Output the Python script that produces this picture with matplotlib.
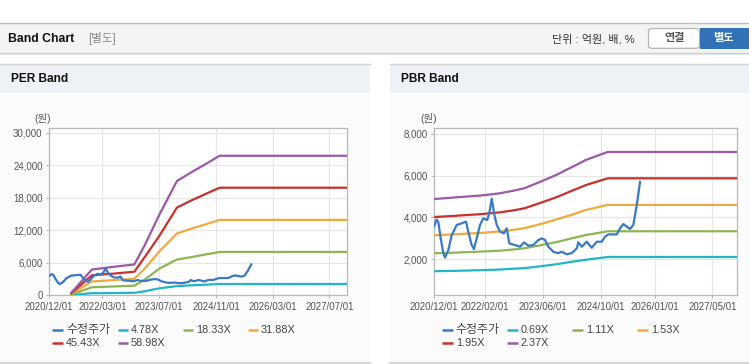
import matplotlib
matplotlib.use("Agg")
import matplotlib.pyplot as plt
import matplotlib.dates as mdates
from matplotlib.patches import Rectangle, FancyBboxPatch
from matplotlib.lines import Line2D
import numpy as np
import pandas as pd

plt.rcParams['font.family'] = ['Liberation Sans', 'Noto Sans CJK KR', 'DejaVu Sans']

W, H = 749, 364

# ---------------- data ----------------
price_dates = ['2020-12-01', '2020-12-21', '2021-01-04', '2021-01-24', '2021-02-15', '2021-03-01',
               '2021-03-29', '2021-04-27', '2021-06-08', '2021-07-20', '2021-08-25', '2021-09-13',
               '2021-10-12', '2021-10-31', '2021-11-23', '2021-12-21', '2022-01-18', '2022-02-20',
               '2022-03-09', '2022-03-30', '2022-04-18', '2022-05-11', '2022-06-07', '2022-07-11',
               '2022-08-03', '2022-08-25', '2022-10-12', '2022-11-23', '2022-12-27', '2023-02-01',
               '2023-03-15', '2023-04-26', '2023-05-25', '2023-06-22', '2023-07-19', '2023-08-31',
               '2023-10-12', '2023-11-09', '2023-12-21', '2024-02-02', '2024-03-15', '2024-03-28',
               '2024-04-26', '2024-06-07', '2024-07-19', '2024-08-30', '2024-10-11', '2024-11-08',
               '2024-12-06', '2025-02-15', '2025-03-14', '2025-04-11', '2025-05-10', '2025-06-07',
               '2025-07-04', '2025-08-02', '2025-08-30']
price_values = [3600, 3900, 3780, 3000, 2290, 2080,
                2440, 3160, 3640, 3720, 3800, 3320,
                2680, 2490, 3000, 3640, 3960, 3880,
                4200, 4900, 4200, 3640, 3320, 3240,
                3480, 2760, 2680, 2600, 2810, 2650,
                2680, 2920, 3000, 2920, 2600, 2360,
                2290, 2360, 2240, 2300, 2520, 2810,
                2600, 2840, 2550, 2840, 2840, 3080,
                3190, 3190, 3480, 3685, 3560, 3450,
                3640, 4590, 5700]

per_dates = ['2021-06-01', '2021-12-01', '2022-06-01', '2022-12-01', '2023-03-01', '2023-07-01',
             '2023-12-01', '2024-04-01', '2024-08-01', '2024-12-01', '2027-12-02']
per_478 = [25, 390, 420, 460, 750, 1280, 1700, 1840, 1960, 2090, 2090]
per_1833 = [90, 1480, 1630, 1770, 2900, 4900, 6600, 7050, 7530, 8010, 8010]
per_3188 = [160, 2550, 2800, 3050, 4950, 8050, 11400, 12300, 13100, 13930, 13930]
per_4543 = [230, 3700, 4000, 4350, 7100, 10900, 16200, 17500, 18700, 19870, 19870]
per_5898 = [300, 4750, 5250, 5700, 9300, 14800, 21100, 22700, 24200, 25770, 25770]
per_labels = ['4.78X', '18.33X', '31.88X', '45.43X', '58.98X']

pbr_dates = ['2020-12-01', '2021-06-01', '2022-01-01', '2022-06-01', '2022-10-01', '2023-01-01',
             '2023-06-01', '2023-10-01', '2024-02-01', '2024-06-01', '2024-12-01', '2027-11-27']
pbr_069 = [1430, 1450, 1480, 1510, 1550, 1580, 1680, 1770, 1880, 1980, 2110, 2110]
pbr_111 = [2290, 2320, 2370, 2410, 2470, 2530, 2690, 2830, 3000, 3160, 3340, 3340]
pbr_153 = [3150, 3200, 3260, 3330, 3410, 3490, 3710, 3910, 4130, 4360, 4600, 4600]
pbr_195 = [4020, 4080, 4160, 4240, 4340, 4440, 4730, 4980, 5270, 5550, 5870, 5870]
pbr_237 = [4880, 4960, 5050, 5150, 5280, 5400, 5750, 6050, 6400, 6750, 7130, 7130]
pbr_labels = ['0.69X', '1.11X', '1.53X', '1.95X', '2.37X']

price_label = '수정주가'

per_xticks = ['2020-12-01', '2022-03-01', '2023-07-01', '2024-11-01', '2026-03-01', '2027-07-01']
per_xticklabels = ['2020/12/01', '2022/03/01', '2023/07/01', '2024/11/01', '2026/03/01', '2027/07/01']
per_yticks = [0, 6000, 12000, 18000, 24000, 30000]
pbr_xticks = ['2020-12-01', '2022-02-01', '2023-06-01', '2024-10-01', '2026-01-01', '2027-05-01']
pbr_xticklabels = ['2020/12/01', '2022/02/01', '2023/06/01', '2024/10/01', '2026/01/01', '2027/05/01']
pbr_yticks = [2000, 4000, 6000, 8000]

colors = ['#3a78c8', '#22b5c8', '#8cb652', '#f2a93b', '#c9302c', '#9a5aa6']

# ---------------- figure ----------------
fig = plt.figure(figsize=(W / 100, H / 100), dpi=100, facecolor='white')


def fx(x):
    return x / W


def fy(y):
    return 1 - y / H


def rect(x0, y0, x1, y1, color, z=-10, **kw):
    fig.add_artist(Rectangle((fx(x0), fy(y1)), fx(x1) - fx(x0), fy(y0) - fy(y1),
                             transform=fig.transFigure, facecolor=color, edgecolor='none',
                             zorder=z, **kw))


def hline(x0, x1, y, color, lw=1.0, z=-5):
    fig.add_artist(Line2D([fx(x0), fx(x1)], [fy(y), fy(y)], transform=fig.transFigure,
                          color=color, lw=lw, zorder=z))


# header bar
rect(0, 22.5, W, 52.5, '#f4f4f4')
hline(0, W, 22.7, '#bdbdbd', 1.0)
hline(0, W, 52.8, '#cccccc', 1.0)
hline(0, W, 53.8, '#e6e6e6', 1.0)

fig.text(fx(8), fy(38.5), 'Band Chart', fontsize=8.8, fontweight='bold', color='#111111',
         va='center', ha='left')
fig.text(fx(88), fy(38.5), '[별도]', fontsize=8.3, color='#8a8a8a', va='center', ha='left')
fig.text(fx(552), fy(39), '단위 : 억원, 배, %', fontsize=8, color='#333333', va='center', ha='left')

# buttons
b1 = FancyBboxPatch((fx(648.5), fy(48.3)), fx(699.5) - fx(648.5), fy(28.5) - fy(48.3),
                    boxstyle='round,pad=0,rounding_size=0.006', transform=fig.transFigure,
                    facecolor='white', edgecolor='#b5b5b5', lw=0.9, zorder=-4)
fig.add_artist(b1)
rect(699.5, 28.3, W, 48.5, '#3273b8', z=-4)
fig.text(fx(675), fy(38.5), '연결', fontsize=8, fontweight='bold', color='#555555',
         va='center', ha='center')
fig.text(fx(723), fy(38.5), '별도', fontsize=8, fontweight='bold', color='white',
         va='center', ha='center')

# panels
for (px0, px1, title) in [(0, 370, 'PER Band'), (390, W, 'PBR Band')]:
    rect(px0, 64.3, px1, 92.7, '#eef1f6')
    rect(px0, 92.7, px1, 362.5, '#fbfbfb')
    hline(px0, px1, 64.3, '#d6d6d6', 1.0)
    hline(px0, px1, 363.0, '#d2d2d2', 1.2)
    fig.text(fx(px0 + 11), fy(79), title, fontsize=8.6, fontweight='bold', color='#111111',
             va='center', ha='left')


def style_axes(ax, xticks, xticklabels, yticks, ylim, xlim):
    ax.set_facecolor('white')
    ax.set_xlim(pd.Timestamp(xlim[0]), pd.Timestamp(xlim[1]))
    ax.set_ylim(*ylim)
    ax.set_xticks([pd.Timestamp(d) for d in xticks])
    ax.set_xticklabels(xticklabels)
    ax.set_yticks(yticks)
    ax.set_yticklabels([f'{v:,}' for v in yticks])
    ax.grid(True, color='#e6e6e6', lw=0.8)
    ax.set_axisbelow(True)
    for s in ax.spines.values():
        s.set_color('#b8b8b8')
        s.set_linewidth(0.9)
    ax.tick_params(axis='both', labelsize=7, labelcolor='#555555', color='#b8b8b8',
                   length=2.2, width=0.8, pad=2.6)


pdates = pd.to_datetime(price_dates)

# PER
ax1 = fig.add_axes([fx(49.3), fy(295.3), fx(347.3) - fx(49.3), fy(128) - fy(295.3)])
style_axes(ax1, per_xticks, per_xticklabels, per_yticks, (0, 30900), ('2020-12-01', '2027-12-02'))
d1 = pd.to_datetime(per_dates)
for vals, c in zip([per_478, per_1833, per_3188, per_4543, per_5898], colors[1:]):
    ax1.plot(d1, vals, color=c, lw=1.6, solid_capstyle='butt', zorder=3)
ax1.plot(pdates, price_values, color=colors[0], lw=1.6, zorder=4)
fig.text(fx(34), fy(118.5), '(원)', fontsize=7.5, color='#555555', va='center', ha='left')

# PBR
ax2 = fig.add_axes([fx(434.3), fy(295.3), fx(737.3) - fx(434.3), fy(128.3) - fy(295.3)])
style_axes(ax2, pbr_xticks, pbr_xticklabels, pbr_yticks, (280, 8260), ('2020-12-01', '2027-11-27'))
d2 = pd.to_datetime(pbr_dates)
for vals, c in zip([pbr_069, pbr_111, pbr_153, pbr_195, pbr_237], colors[1:]):
    ax2.plot(d2, vals, color=c, lw=1.6, solid_capstyle='butt', zorder=3)
ax2.plot(pdates, price_values, color=colors[0], lw=1.6, zorder=4)
fig.text(fx(420), fy(118.5), '(원)', fontsize=7.5, color='#555555', va='center', ha='left')


# legends (manual layout, fixed column spacing)
def legend(x0, labels):
    xs = [0, 65, 130, 195]
    for i, (lab, c) in enumerate(zip(labels, colors)):
        row, col = divmod(i, 4)
        y = 330 + row * 13.3
        x = x0 + xs[col]
        fig.add_artist(Line2D([fx(x), fx(x + 10.5)], [fy(y), fy(y)], transform=fig.transFigure,
                              color=c, lw=1.8, solid_capstyle='butt', zorder=5))
        fs = 8.6 if lab == price_label else 7.8
        fig.text(fx(x + 13.5), fy(y), lab, fontsize=fs, color='#444444', va='center',
                 ha='left', zorder=5)


legend(52.5, [price_label] + per_labels)
legend(442.3, [price_label] + pbr_labels)

fig.savefig('out.png', dpi=100, facecolor='white')
